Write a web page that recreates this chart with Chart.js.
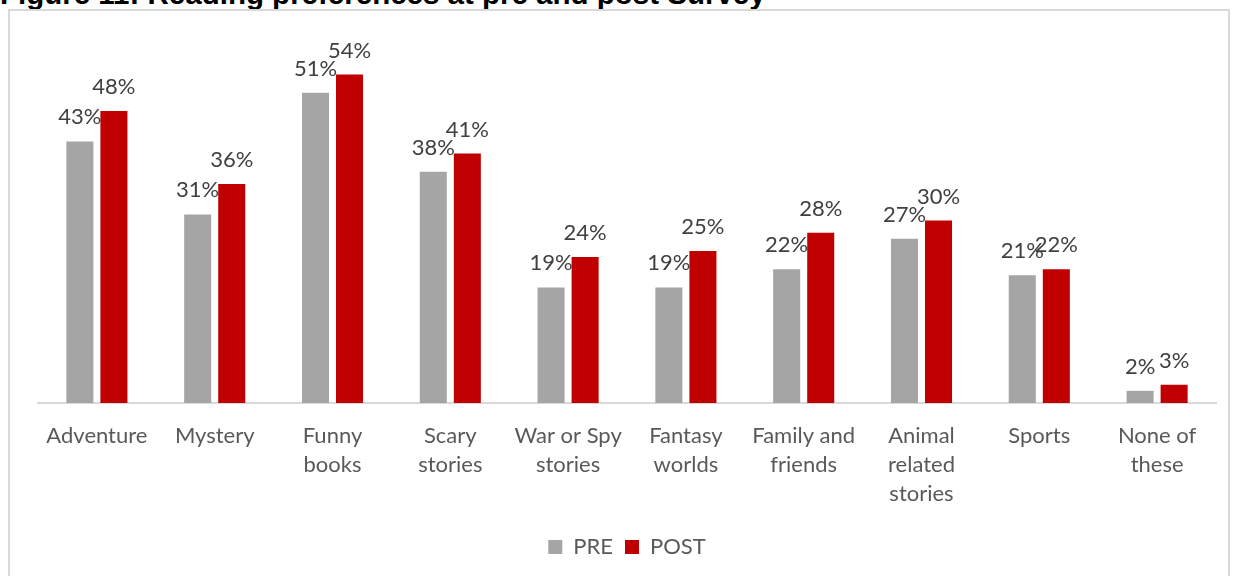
<!DOCTYPE html>
<html>
<head>
    <meta charset="utf-8"/>
    <title>Reading preferences</title>
    <script src="https://cdn.jsdelivr.net/npm/chart.js@4/dist/chart.umd.min.js"></script>
    <style>
        body { margin: 0; background: #fff; overflow: hidden; }
        .title {
            position: absolute; left: 0; top: -21px;
            font: bold 29.5px "Liberation Sans", Arial, sans-serif;
            line-height: 29.5px; color: #000; white-space: nowrap;
        }
        .frame {
            position: absolute; left: 8px; top: 9px; width: 1222px; height: 620px;
            border: 2px solid #d9d9d9; box-sizing: border-box;
        }
        .chart-container { position: absolute; left: 0; top: 0; width: 1233px; height: 576px; }
    </style>
</head>
<body>
    <div class="title">Figure 11: Reading preferences at pre and post Survey</div>
    <div class="frame"></div>
    <div class="chart-container">
        <canvas id="myChart"></canvas>
    </div>
    <script>
        const categories = [
            'Adventure', 'Mystery', ['Funny', 'books'], ['Scary', 'stories'],
            ['War or Spy', 'stories'], ['Fantasy', 'worlds'], ['Family and', 'friends'],
            ['Animal', 'related', 'stories'], 'Sports', ['None of', 'these']
        ];
        const preValues = [43, 31, 51, 38, 19, 19, 22, 27, 21, 2];
        const postValues = [48, 36, 54, 41, 24, 25, 28, 30, 22, 3];

        // percent labels above each bar
        const barLabels = {
            id: 'barLabels',
            afterDatasetsDraw(chart) {
                const ctx = chart.ctx;
                ctx.save();
                ctx.font = '22px Lato';
                ctx.fillStyle = '#404040';
                ctx.textAlign = 'center';
                ctx.textBaseline = 'alphabetic';
                chart.data.datasets.forEach((ds, i) => {
                    chart.getDatasetMeta(i).data.forEach((bar, j) => {
                        ctx.fillText(ds.data[j] + '%', bar.x, bar.y - 17);
                    });
                });
                ctx.restore();
            }
        };

        const ctx = document.getElementById('myChart').getContext('2d');
        let myChart = new Chart(ctx, {
            type: 'bar',
            data: {
                labels: categories,
                datasets: [{
                    label: 'PRE',
                    data: preValues,
                    backgroundColor: '#a5a5a5',
                    barPercentage: 0.794,
                    categoryPercentage: 0.578,
                }, {
                    label: 'POST',
                    data: postValues,
                    backgroundColor: '#c00000',
                    barPercentage: 0.794,
                    categoryPercentage: 0.578,
                }]
            },
            options: {
                responsive: true,
                maintainAspectRatio: false,
                animation: false,
                layout: {
                    padding: { left: 38, right: 17, top: 38, bottom: 8 }
                },
                plugins: {
                    tooltip: { enabled: false },
                    legend: {
                        position: 'bottom',
                        labels: {
                            boxWidth: 14,
                            boxHeight: 14,
                            padding: 12,
                            color: '#595959',
                            font: { family: 'Lato', size: 22 }
                        }
                    }
                },
                scales: {
                    x: {
                        grid: { display: false },
                        border: { display: true, color: '#d9d9d9', width: 2 },
                        ticks: {
                            color: '#595959',
                            padding: 10,
                            maxRotation: 0,
                            autoSkip: false,
                            font: { family: 'Lato', size: 22, lineHeight: 1.32 }
                        },
                        afterFit: (scale) => { scale.height = 121; }
                    },
                    y: {
                        display: false,
                        min: 0,
                        max: 60
                    }
                }
            },
            plugins: [barLabels]
        });
    </script>
</body>
</html>
